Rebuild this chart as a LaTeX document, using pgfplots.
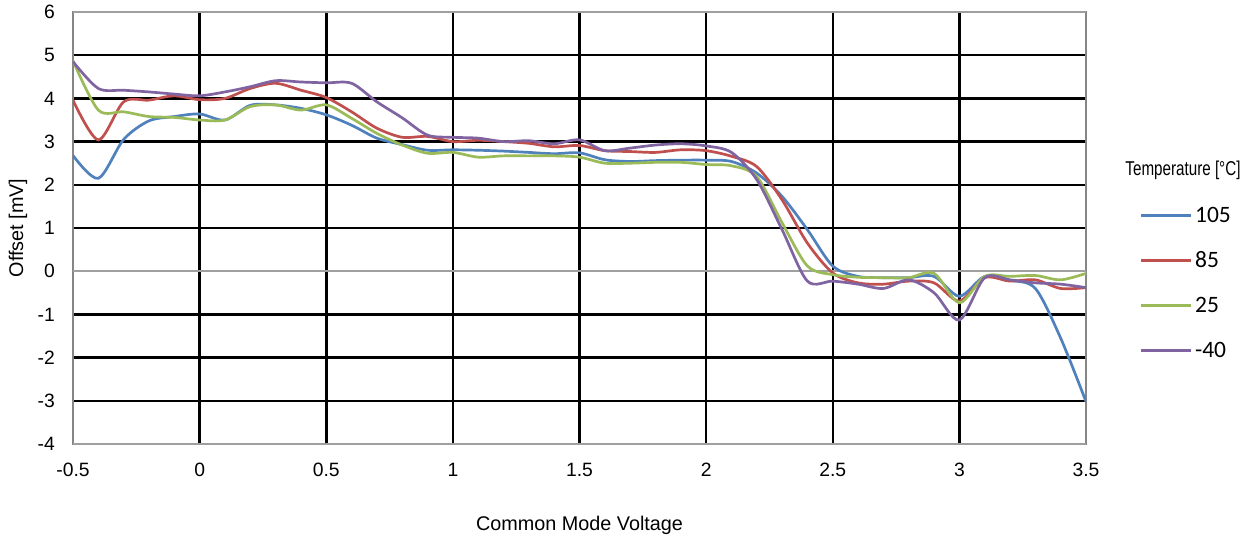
\documentclass[border=0pt]{standalone}
\usepackage{fontspec}
\setmainfont{Liberation Sans}
\newfontfamily\carlito{Carlito}
\usepackage{pgfplots}
\pgfplotsset{compat=1.18}
\usepackage{pgfplotstable}
\definecolor{cA}{HTML}{4F81BD}
\definecolor{cB}{HTML}{C0504D}
\definecolor{cC}{HTML}{9BBB59}
\definecolor{cD}{HTML}{8064A2}
\definecolor{bord}{HTML}{868686}

\pgfplotstableread{
x t105 t85 t25 tm40
-0.5 2.68 3.96 4.87 4.85
-0.4 2.15 3.04 3.73 4.23
-0.3 3.05 3.92 3.69 4.19
-0.2 3.48 3.96 3.58 4.15
-0.1 3.58 4.06 3.56 4.10
0.0 3.64 3.97 3.50 4.06
0.1 3.50 4.00 3.50 4.15
0.2 3.84 4.23 3.81 4.27
0.3 3.85 4.35 3.85 4.41
0.4 3.77 4.19 3.73 4.38
0.5 3.62 4.02 3.85 4.36
0.6 3.38 3.69 3.54 4.35
0.7 3.08 3.31 3.19 3.92
0.8 2.93 3.10 2.92 3.55
0.9 2.80 3.12 2.73 3.15
1.0 2.81 3.00 2.75 3.10
1.1 2.80 3.03 2.64 3.08
1.2 2.78 3.00 2.67 3.00
1.3 2.75 2.96 2.67 3.02
1.4 2.72 2.88 2.67 2.95
1.5 2.74 2.91 2.64 3.04
1.6 2.58 2.79 2.50 2.79
1.7 2.54 2.77 2.50 2.85
1.8 2.56 2.75 2.52 2.92
1.9 2.57 2.81 2.52 2.95
2.0 2.57 2.79 2.47 2.90
2.1 2.54 2.66 2.44 2.75
2.2 2.27 2.42 2.19 2.12
2.3 1.73 1.65 1.12 0.96
2.4 0.96 0.65 0.12 -0.23
2.5 0.12 -0.04 -0.08 -0.23
2.6 -0.12 -0.27 -0.14 -0.30
2.7 -0.15 -0.30 -0.15 -0.40
2.8 -0.15 -0.23 -0.15 -0.20
2.9 -0.12 -0.27 -0.05 -0.50
3.0 -0.58 -0.69 -0.73 -1.13
3.1 -0.12 -0.15 -0.12 -0.15
3.2 -0.21 -0.23 -0.12 -0.20
3.3 -0.40 -0.20 -0.10 -0.27
3.4 -1.55 -0.40 -0.20 -0.30
3.5 -3.02 -0.38 -0.05 -0.38
}\datatable

\begin{document}
\begin{tikzpicture}
\path[use as bounding box] (0,0) rectangle (1254pt,539pt);
\begin{axis}[
  at={(73pt,95pt)}, anchor=south west,
  scale only axis, width=1013pt, height=432pt,
  xmin=-0.5, xmax=3.5, ymin=-4, ymax=6,
  /pgf/number format/assume math mode=true,
  axis line style={draw=bord, line width=2.2pt},
  major tick length=0pt,
  xtick={0,0.5,1,1.5,2,2.5,3},
  xticklabels={0,0.5,1,1.5,2,2.5,3},
  extra x ticks={-0.5,3.5},
  extra x tick labels={-0.5,3.5},
  ytick={-3,-2,-1,1,2,3,4,5},
  yticklabels={-3,-2,-1,1,2,3,4,5},
  extra y ticks={-4,0,6},
  extra y tick labels={-4,0,6},
  grid=major,
  major grid style={draw=black, line width=2.5pt},
  extra x tick style={grid=major, major grid style={draw=bord, line width=2.2pt}},
  extra y tick style={grid=major, major grid style={draw=gray!75, line width=1.6pt}},
  ticklabel style={font=\fontsize{19.3}{22}\selectfont},
  xticklabel style={anchor=north, inner sep=0pt, yshift=-19pt},
  yticklabel style={anchor=east, inner sep=0pt, xshift=-18pt},
  xlabel={Common Mode Voltage},
  ylabel={Offset [mV]},
  label style={font=\fontsize{19.8}{23}\selectfont},
  xlabel style={at={(axis description cs:0.5,-0.1875)}, anchor=center},
  ylabel style={at={(axis description cs:-0.0543,0.5)}, anchor=center},
  legend style={at={(axis description cs:1.0525,0.5475)}, anchor=north west,
    draw=none, fill=none, inner sep=0pt, row sep=30pt, column sep=3pt,
    font=\carlito\fontsize{23.5}{28}\selectfont,
    nodes={inner sep=0pt, text height=15pt, text depth=0pt, anchor=base west}},
  legend cell align=left,
  legend image code/.code={\draw[#1, line width=2.7pt] (0pt,7.5pt) -- (50pt,7.5pt);},
  every axis plot/.append style={line width=2.7pt, smooth, no markers},
]
\addplot[cA] table[x=x, y=t105] {\datatable};
\addlegendentry{105}
\addplot[cB] table[x=x, y=t85] {\datatable};
\addlegendentry{85}
\addplot[cC] table[x=x, y=t25] {\datatable};
\addlegendentry{25}
\addplot[cD] table[x=x, y=tm40] {\datatable};
\addlegendentry{-40}
\end{axis}
\node[anchor=center, inner sep=0pt] at (1183pt,369pt) {\scalebox{0.76}[1]{\fontsize{20}{24}\selectfont Temperature [°C]}};
\end{tikzpicture}
\end{document}
